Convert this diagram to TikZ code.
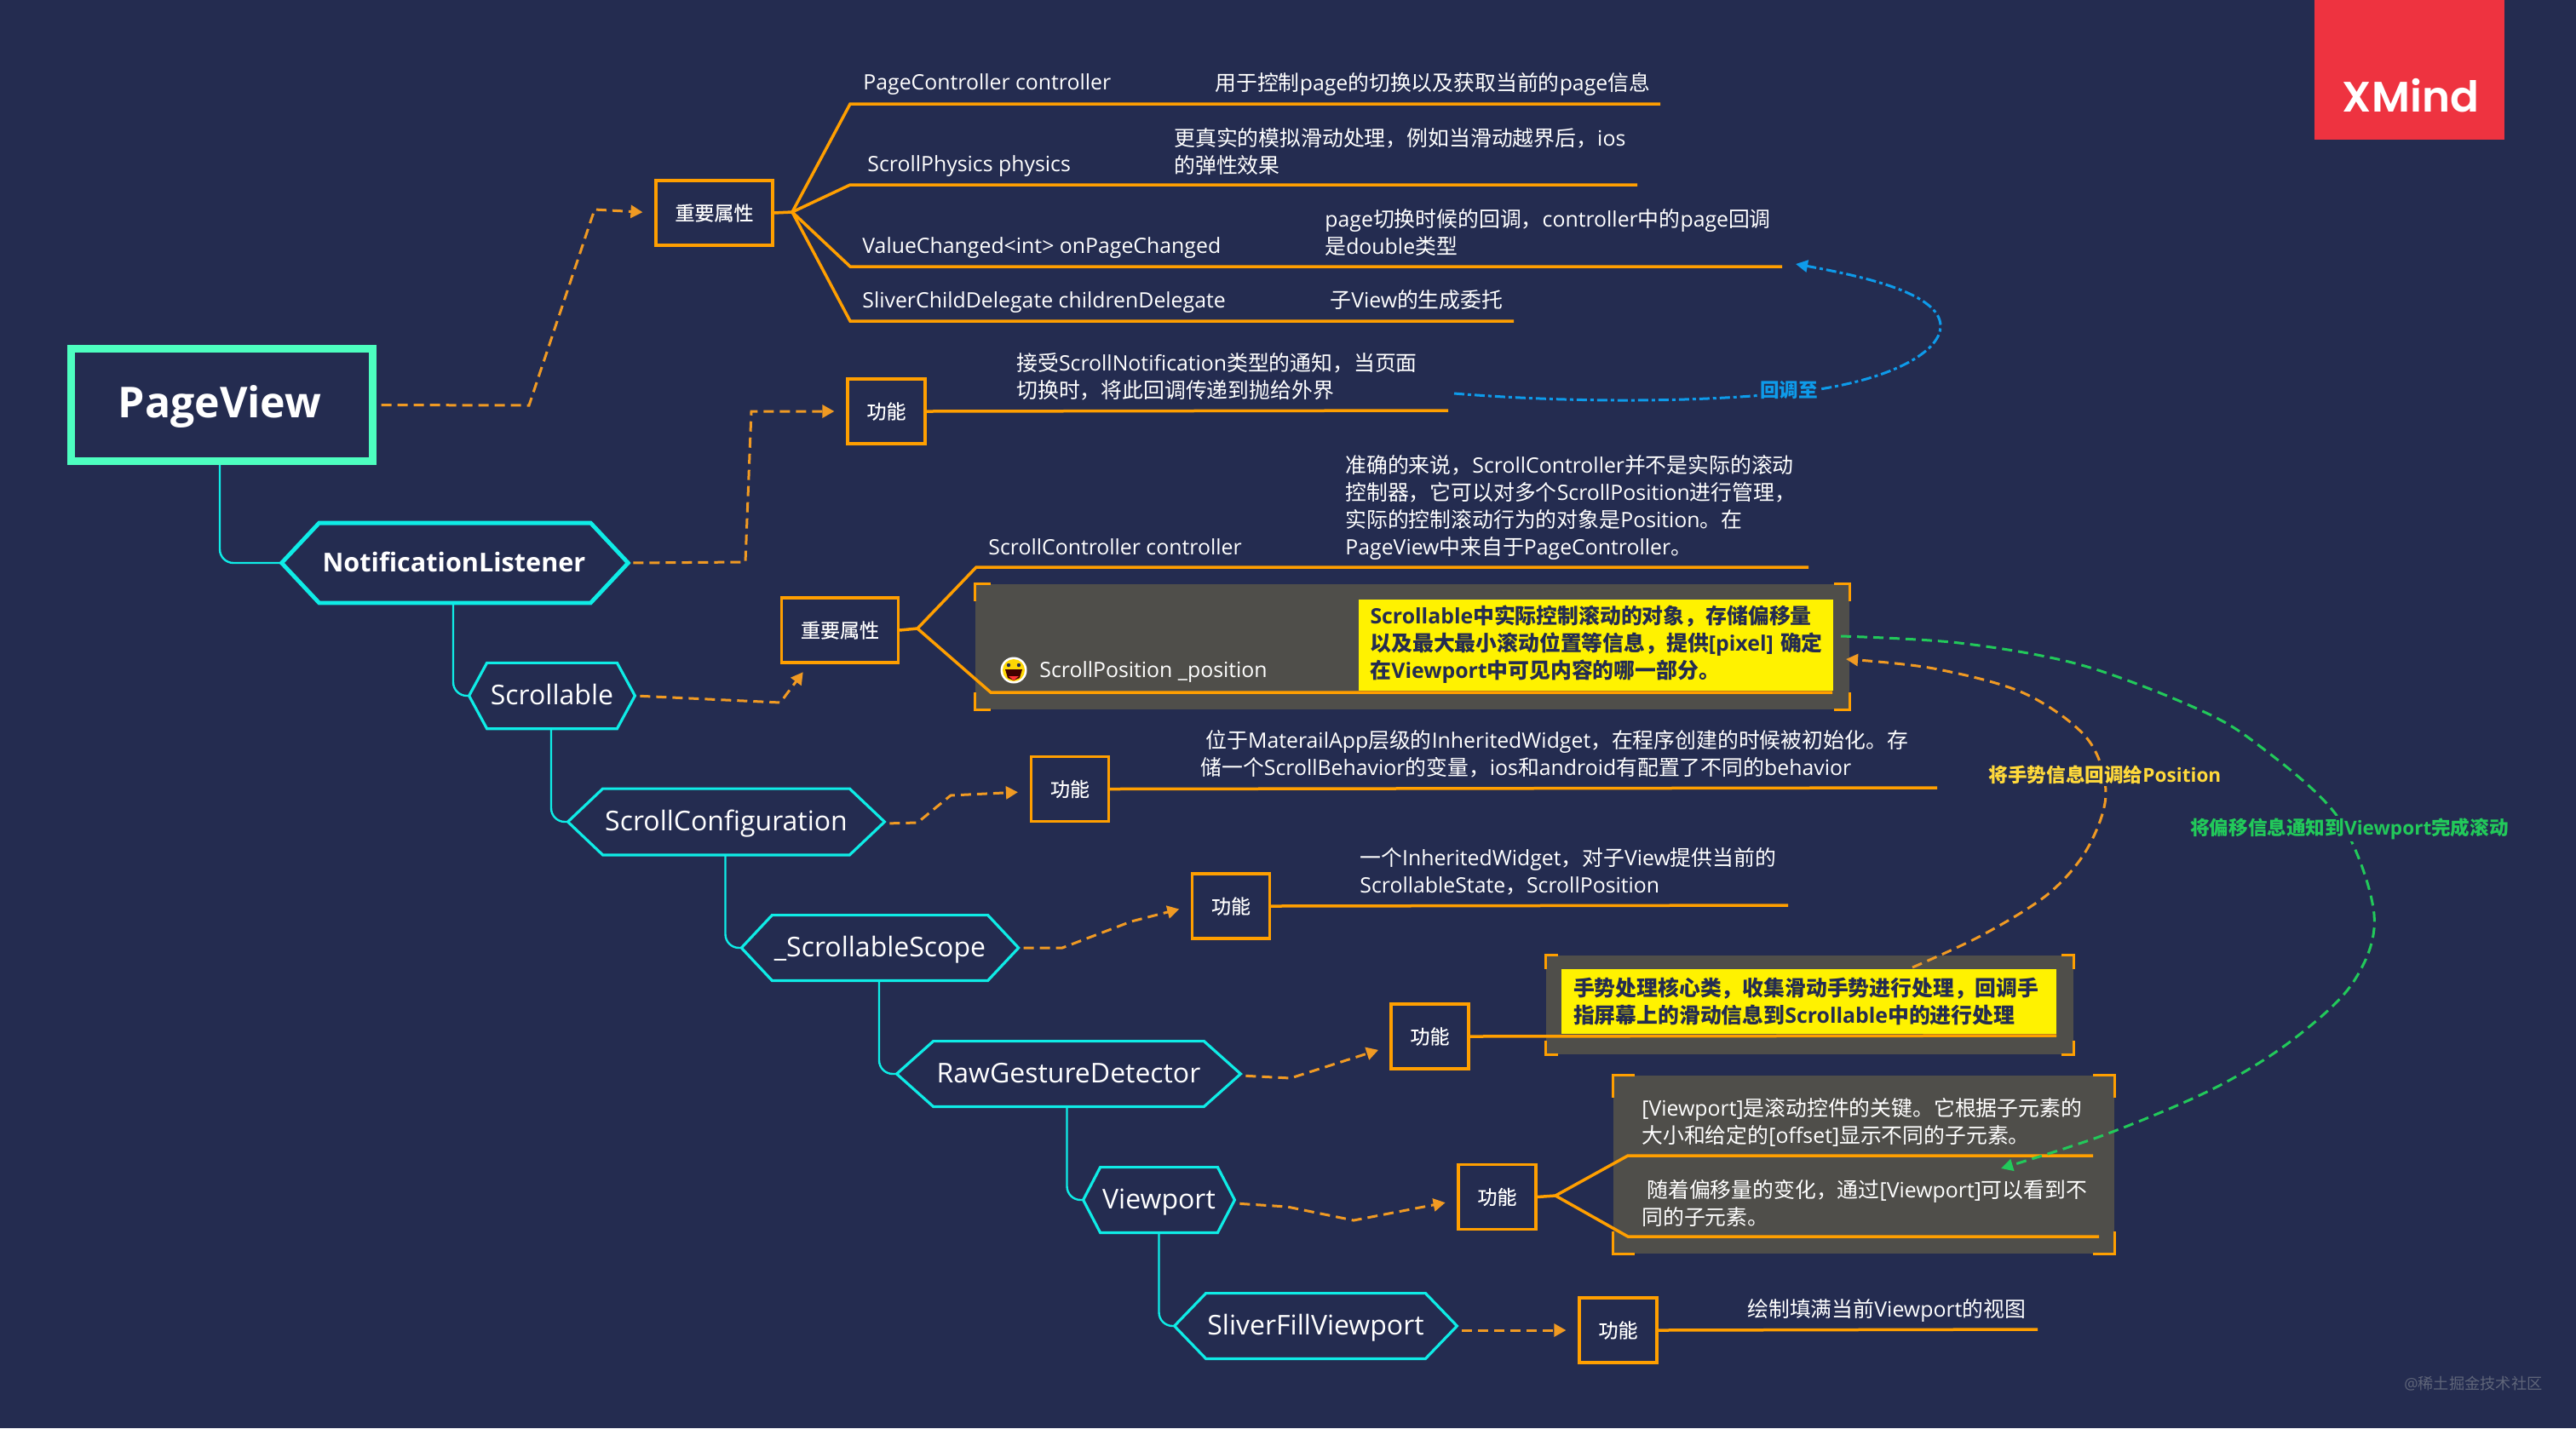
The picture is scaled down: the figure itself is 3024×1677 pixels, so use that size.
\documentclass[tikz,border=0pt]{standalone}
\usepackage{fontspec}
\setmainfont{Open Sans}
\newfontfamily\cjk{Noto Sans CJK SC}
\newfontfamily\logofont[UprightFont=* SemiBold]{Poppins}
\newfontfamily\cjkmid[FakeBold=0.35]{Noto Sans CJK SC}
\newcommand\zh[1]{{\cjk #1}}
\usetikzlibrary{arrows.meta,calc}
\definecolor{bg}{HTML}{242C50}
\definecolor{greybox}{HTML}{4F4E4A}
\definecolor{xred}{HTML}{EE3340}
\definecolor{cy}{HTML}{0FECE6}
\definecolor{teal}{HTML}{4DFFC0}
\definecolor{org}{HTML}{FF9F00}
\definecolor{dorg}{HTML}{F09A23}
\definecolor{blu}{HTML}{0E9BEA}
\definecolor{grn}{HTML}{22C95A}
\definecolor{ylab}{HTML}{FFD93B}
\definecolor{wm}{HTML}{5F6579}
\tikzset{
  txt/.style={text=white,anchor=west,inner sep=0pt,align=left,font=\fontsize{12.42}{16}\selectfont},
  hextext/.style={text=white,inner sep=0pt,text height=10pt,text depth=0pt,font=\fontsize{16}{20}\selectfont},
  hexline/.style={draw=cy,line join=miter},
  conn/.style={draw=cy,line width=1.2pt,rounded corners=8pt},
  orgline/.style={draw=org,line width=1.75pt,line join=miter},
  fbox/.style={draw=org,line width=1.6pt,text=white,inner sep=0pt,minimum width=45.5pt,minimum height=38pt,font=\cjkmid\fontsize{11.5}{14}\selectfont},
  ibox/.style={fbox,minimum width=68.5pt},
  dconn/.style={draw=dorg,line width=1.5pt,dash pattern=on 6pt off 3.5pt,-{Triangle[length=7pt,width=7.5pt]},shorten <=3pt,shorten >=7pt},
  greyrect/.style={fill=greybox,inner sep=0pt},
  bracket/.style={draw=org,line width=1.7pt,line join=miter},
  yelbox/.style={fill=yellow,text=bg,inner sep=0pt,inner xsep=7pt,align=left,font=\fontsize{12.42}{16}\selectfont\bfseries},
  linklabel/.style={fill=bg,inner sep=1pt,font=\fontsize{11.3}{14}\selectfont\bfseries},
}
% name, cx, cy, width, height, chamfer, line width, text
\newcommand\hexn[8]{%
  \node[hextext,minimum width=#4*0.5pt,minimum height=#5*0.5pt] (#1) at (#2,#3) {#8};
  \draw[hexline,line width=#7] (#1.west) -- ([xshift=#6*0.5pt]#1.north west) -- ([xshift=-#6*0.5pt]#1.north east) -- (#1.east) -- ([xshift=-#6*0.5pt]#1.south east) -- ([xshift=#6*0.5pt]#1.south west) -- cycle;
}
% name, horizontal arm, vertical arm (pt)
\newcommand\brackets[3]{%
  \draw[bracket] ([xshift=#2]#1.north west) -- (#1.north west) -- ([yshift=-#3]#1.north west);
  \draw[bracket] ([xshift=-#2]#1.north east) -- (#1.north east) -- ([yshift=-#3]#1.north east);
  \draw[bracket] ([xshift=#2]#1.south west) -- (#1.south west) -- ([yshift=#3]#1.south west);
  \draw[bracket] ([xshift=-#2]#1.south east) -- (#1.south east) -- ([yshift=#3]#1.south east);
}
\begin{document}
\begin{tikzpicture}[x=0.5pt,y=-0.5pt]
\fill[bg] (0,0) rectangle (3024,1677);
\useasboundingbox (0,0) rectangle (3024,1677);

% logo
\node[fill=xred,minimum width=111.5pt,minimum height=82pt,inner sep=0pt] (xmbox) at (2828.5,82) {};
\node[text=white,inner sep=0pt,font=\logofont\fontsize{25}{28}\selectfont] (xmtext) at (2830,112) {XMind};

% root
\node[draw=teal,line width=4.5pt,text=white,inner sep=0pt,minimum width=177pt,minimum height=66pt,text height=14.5pt,text depth=0pt,font=\fontsize{25}{30}\selectfont\bfseries] (pv) at (260,475.5) {\kern-2pt PageView};

% hexagons
\hexn{nl}{534}{661}{406}{93}{44}{2.4pt}{{\bfseries\fontsize{15.3}{20}\selectfont\kern-1pt NotificationListener}}
\hexn{sc}{648}{817}{194}{76.5}{21}{1.6pt}{Scrollable}
\hexn{cfg}{852.5}{965}{371}{77}{41}{1.6pt}{ScrollConfiguration}
\hexn{scope}{1033}{1113}{324.5}{76}{36}{1.6pt}{\_ScrollableScope}
\hexn{raw}{1254.5}{1261}{403}{76}{43}{1.6pt}{RawGestureDetector}
\hexn{vp}{1360.5}{1409}{177}{76}{20}{1.6pt}{Viewport}
\hexn{sl}{1544.5}{1557}{331}{76}{37}{1.6pt}{SliverFillViewport}

% tree connectors
\draw[conn] ([xshift=-1pt]pv.south) |- (nl.west);
\draw[conn] ([xshift=-1pt]nl.south) |- (sc.west);
\draw[conn] ([xshift=-0.5pt]sc.south) |- (cfg.west);
\draw[conn] ([xshift=-0.5pt]cfg.south) |- (scope.west);
\draw[conn] ([xshift=-0.5pt]scope.south) |- (raw.west);
\draw[conn] ([xshift=-1pt]raw.south) |- (vp.west);
\draw[conn] (vp.south) |- (sl.west);

% boxes
\node[ibox] (imp1) at (838.5,250) {重要属性};
\node[ibox] (imp2) at (986,740) {重要属性};
\node[fbox] (f1) at (1040.5,483) {功能};
\node[fbox] (f2) at (1256,926.5) {功能};
\node[fbox] (f3) at (1445,1064) {功能};
\node[fbox] (f4) at (1678.5,1217) {功能};
\node[fbox] (f5) at (1757.5,1405.5) {功能};
\node[fbox] (f6) at (1899.5,1562) {功能};

% first property fan
\coordinate (fan1) at (930,249);
\coordinate (l1a) at (998,122); \coordinate (l1b) at (1949,122);
\coordinate (l2a) at (998,217); \coordinate (l2b) at (1922,217);
\coordinate (l3a) at (998,313); \coordinate (l3b) at (2092,313);
\coordinate (l4a) at (998,377); \coordinate (l4b) at (1777,377);
\draw[orgline] (imp1.east) -- (fan1);
\draw[orgline] (fan1) -- (l1a) -- (l1b);
\draw[orgline] (fan1) -- (l2a) -- (l2b);
\draw[orgline] (fan1) -- (l3a) -- (l3b);
\draw[orgline] (fan1) -- (l4a) -- (l4b);
\node[txt] (t1) at (1013,99) {PageController controller};
\node[txt] (t1d) at (1426,99) {\zh{用于控制}page\zh{的切换以及获取当前的}page\zh{信息}};
\node[txt] (t2) at (1018,195) {ScrollPhysics physics};
\node[txt] (t2d) at (1378,178.5) {\zh{更真实的模拟滑动处理，例如当滑动越界后，}ios\\\zh{的弹性效果}};
\node[txt] (t3) at (1012,291.5) {ValueChanged<int> onPageChanged};
\node[txt] (t3d) at (1555,273) {page\zh{切换时候的回调，}controller\zh{中的}page\zh{回调}\\\zh{是}double\zh{类型}};
\node[txt] (t4) at (1012,355) {SliverChildDelegate childrenDelegate};
\node[txt] (t4d) at (1561,352) {\zh{子}View\zh{的生成委托}};

% notification function
\coordinate (l5b) at (1700,482);
\draw[orgline] (f1.east) -- (l5b);
\node[txt] (t5d) at (1193,442) {\zh{接受}ScrollNotification\zh{类型的通知，当页面}\\\zh{切换时，将此回调传递到抛给外界}};

% scrollable group
\node[greyrect,minimum width=513pt,minimum height=73.5pt] (g1) at (1658,759.5) {};
\brackets{g1}{9pt}{10pt}
\node[yelbox,text width=264.5pt,minimum height=53.5pt] (y1) at (1873,757) {Scrollable\zh{中实际控制滚动的对象，存储偏移量}\\\mbox{\zh{以及最大最小滚动位置等信息，提供}[pixel] \zh{确定}}\\\zh{在}Viewport\zh{中可见内容的哪一部分。}};
\coordinate (fan2) at (1077,738);
\coordinate (l6a) at (1146,666); \coordinate (l6b) at (2123,666);
\coordinate (l7a) at (1163,813); \coordinate (l7b) at (2151,813);
\draw[orgline] (imp2.east) -- (fan2);
\draw[orgline] (fan2) -- (l6a) -- (l6b);
\draw[orgline] (fan2) -- (l7a) -- (l7b);
\node[txt] (t6) at (1160,642) {ScrollController controller};
\node[txt] (t6d) at (1579,596) {\zh{准确的来说，}ScrollController\zh{并不是实际的滚动}\\\zh{控制器，它可以对多个}ScrollPosition\zh{进行管理，}\\\zh{实际的控制滚动行为的对象是}Position\zh{。在}\\PageView\zh{中来自于}PageController\zh{。}};
\node[txt] (t7) at (1220,789) {ScrollPosition \_position};
% smiley marker
\fill[white] (1190,787) circle (15.5);
\fill[yellow!75!orange] (1190,787) circle (13);
\fill[bg] (1184,781) circle (2.2);
\fill[bg] (1196,781) circle (2.2);
\fill[black!75!red] (1180,786) -- (1200,786) -- (1197,796) -- (1190,799) -- (1183,796) -- cycle;
\fill[red!80!white] (1184,794) -- (1196,794) -- (1190,799) -- cycle;

% configuration function
\coordinate (l8b) at (2274,925);
\draw[orgline] (f2.east) -- (l8b);
\node[txt] (t8d) at (1409,885.5) {\hspace*{3pt}\zh{位于}MaterailApp\zh{层级的}InheritedWidget\zh{，在程序创建的时候被初始化。存}\\\zh{储一个}ScrollBehavior\zh{的变量，}ios\zh{和}android\zh{有配置了不同的}behavior};

% scope function
\coordinate (l9b) at (2099,1063);
\draw[orgline] (f3.east) -- (l9b);
\node[txt] (t9d) at (1596,1023) {\zh{一个}InheritedWidget\zh{，对子}View\zh{提供当前的}\\ScrollableState\zh{，}ScrollPosition};

% gesture group
\node[greyrect,minimum width=309.5pt,minimum height=58pt] (g2) at (2124.5,1180) {};
\brackets{g2}{7pt}{8pt}
\node[yelbox,text width=276.5pt,minimum height=38pt] (y2) at (2123.5,1176) {\zh{手势处理核心类，收集滑动手势进行处理，回调手}\\\zh{指屏幕上的滑动信息到}Scrollable\zh{中的进行处理}};
\coordinate (l10b) at (2414,1216);
\draw[orgline] (f4.east) -- (l10b);

% viewport group
\node[greyrect,minimum width=294pt,minimum height=104.5pt] (g3) at (2188,1367.5) {};
\brackets{g3}{12.5pt}{13pt}
\coordinate (fan3) at (1826,1404);
\coordinate (l11a) at (1911,1357); \coordinate (l11b) at (2457,1357);
\coordinate (l12a) at (1911,1452); \coordinate (l12b) at (2464,1452);
\draw[orgline] (f5.east) -- (fan3);
\draw[orgline] (fan3) -- (l11a) -- (l11b);
\draw[orgline] (fan3) -- (l12a) -- (l12b);
\node[txt] (t11d) at (1927,1318) {[Viewport]\zh{是滚动控件的关键。它根据子元素的}\\\zh{大小和给定的}[offset]\zh{显示不同的子元素。}};
\node[txt] (t12d) at (1927,1413) {\hspace*{3pt}\zh{随着偏移量的变化，通过}[Viewport]\zh{可以看到不}\\\zh{同的子元素。}};

% sliver function
\coordinate (l13b) at (2392,1561);
\draw[orgline] (f6.east) -- (l13b);
\node[txt] (t13d) at (2051,1539) {\zh{绘制填满当前}Viewport\zh{的视图}};

% dashed relations
\draw[dconn] (pv.east) -- (621,476) -- (698,246) -- (imp1.west);
\draw[dconn] (nl.east) -- (875,660) -- (882,483) -- (f1.west);
\draw[dconn,shorten >=6pt] (sc.east) -- (916,825) -- ([xshift=17pt]imp2.south west);
\draw[dconn] ([yshift=-1pt]cfg.east) -- (1077,966) -- (1116,934) -- ([yshift=-1.5pt]f2.west);
\draw[dconn] (scope.east) -- (1247,1113) -- (1328,1082) -- (f3.west);
\draw[dconn] ([yshift=-1pt]raw.east) -- (1515,1266) -- ([yshift=14pt]f4.south west);
\draw[dconn] ([yshift=-2pt]vp.east) -- (1511,1417) -- (1589,1433) -- ([yshift=-2pt]f5.west);
\draw[dconn] ([yshift=-2.5pt]sl.east) -- (f6.west);

% curved relations
\coordinate (bs) at (1707,462);
\coordinate (bt) at (2108,310);
\draw[draw=blu,line width=1.5pt,dash pattern=on 6pt off 2pt on 2pt off 2pt,-{Triangle[length=7pt,width=7pt]}]
  (bs) .. controls (1830,472) and (2000,475) .. (2136,457) .. controls (2230,442) and (2278,410) .. (2278,383) .. controls (2278,345) and (2190,325) .. (bt);
\node[linklabel,text=blu] (lb1) at (2100,458) {\zh{回调至}};

\coordinate (os) at (2245,1136);
\coordinate (ot) at (2167,774);
\draw[draw=dorg,line width=1.5pt,dash pattern=on 6pt off 3.5pt,-{Triangle[length=7pt,width=7pt]}]
  plot[smooth,tension=0.55] coordinates {(os) (2327,1098) (2404,1050) (2450,997) (2472,932) (2450,867) (2376,814) (2270,785) (ot)};
\node[linklabel,text=ylab] (lb2) at (2471,910) {\zh{将手势信息回调给}Position};

\coordinate (gs) at (2161,747);
\coordinate (gt) at (2349,1372);
\draw[draw=grn,line width=1.5pt,dash pattern=on 6pt off 3.5pt,-{Triangle[length=7pt,width=7pt]}]
  plot[smooth,tension=0.55] coordinates {(gs) (2300,755) (2440,780) (2572,829) (2646,871) (2744,959) (2787,1074) (2762,1154) (2690,1222) (2599,1278) (2472,1332) (gt)};
\node[linklabel,text=grn] (lb3) at (2758,973) {\zh{将偏移信息通知到}Viewport\zh{完成滚动}};

% watermark
\node[text=wm,inner sep=0pt,anchor=west,font=\fontsize{9.1}{12}\selectfont] (wmk) at (2822,1625) {@\zh{稀土掘金技术社区}};
\end{tikzpicture}
\end{document}
